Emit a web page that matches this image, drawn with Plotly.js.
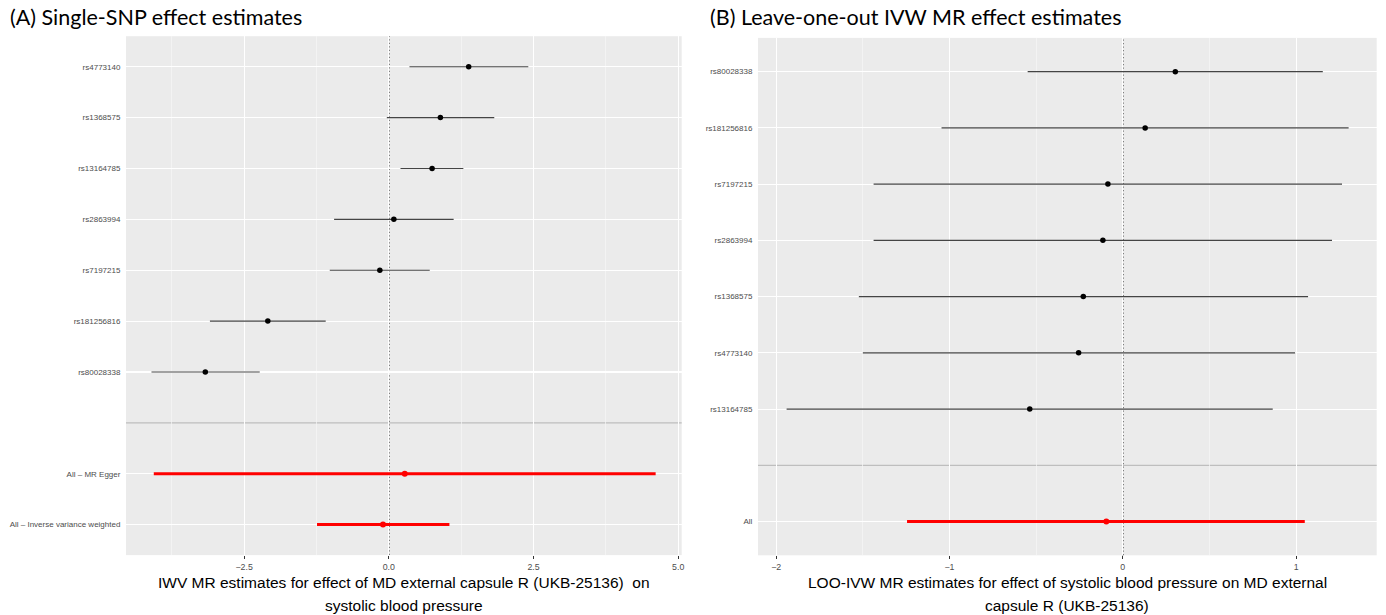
<!DOCTYPE html>
<html>
<head>
<meta charset="utf-8">
<script src="https://cdn.plot.ly/plotly-3.0.1.min.js"></script>
<style>html,body{margin:0;padding:0;background:#fff}#chart{width:1386px;height:615px}</style>
</head>
<body>
<div id="chart"></div>
<script>
// ---- Panel A: single-SNP estimates (top to bottom) ----
const snpA = ['rs4773140','rs1368575','rs13164785','rs2863994','rs7197215','rs181256816','rs80028338'];
const bA   = [1.38, 0.891, 0.748, 0.087, -0.155, -2.09, -3.17];
const loA  = [0.357, -0.034, 0.202, -0.945, -1.02, -3.09, -4.10];
const hiA  = [2.41, 1.822, 1.288, 1.12, 0.707, -1.09, -2.23];
const sumLabA = ['All \u2013 MR Egger','All \u2013 Inverse variance weighted'];
const sumBA   = [0.276, -0.10];
const sumLoA  = [-4.06, -1.24];
const sumHiA  = [4.61, 1.047];
const xTicksA = [-2.5, 0, 2.5, 5];
const xTickTextA = ['\u22122.5','0.0','2.5','5.0'];
const xTitleA = ['IWV MR estimates for effect of MD external capsule R (UKB-25136)  on', 'systolic blood pressure'];

// ---- Panel B: leave-one-out IVW (top to bottom) ----
const snpB = ['rs80028338','rs181256816','rs7197215','rs2863994','rs1368575','rs4773140','rs13164785'];
const bB   = [0.303, 0.129, -0.086, -0.115, -0.228, -0.255, -0.537];
const loB  = [-0.549, -1.046, -1.438, -1.438, -1.523, -1.50, -1.94];
const hiB  = [1.154, 1.303, 1.265, 1.207, 1.069, 0.994, 0.865];
const sumLabB = ['All'];
const sumBB   = [-0.095];
const sumLoB  = [-1.245];
const sumHiB  = [1.05];
const xTicksB = [-2, -1, 0, 1];
const xTickTextB = ['\u22122','\u22121','0','1'];
const xTitleB = ['LOO-IVW MR estimates for effect of systolic blood pressure on MD external', 'capsule R (UKB-25136)'];

// build row positions from order: snps, blank separator, summaries
function rows(snps, sums){
  const labels = snps.concat([''], sums);
  const n = labels.length;
  const pos = labels.map((_, i) => n - i);
  return {labels, pos, snpPos: pos.slice(0, snps.length), sepPos: pos[snps.length], sumPos: pos.slice(snps.length + 1), n};
}
const rA = rows(snpA, sumLabA);
const rB = rows(snpB, sumLabB);

function snpTrace(b, lo, hi, y, xa, ya){
  return {type:'scatter', mode:'markers', x:b, y:y, xaxis:xa, yaxis:ya,
    marker:{color:'#000', size:5.5},
    error_x:{type:'data', symmetric:false, array:hi.map((h,i)=>h-b[i]), arrayminus:lo.map((l,i)=>b[i]-l),
      width:0, thickness:1.1, color:'#444'},
    hoverinfo:'x+y', showlegend:false};
}
function sumTrace(b, lo, hi, y, xa, ya){
  return {type:'scatter', mode:'markers', x:b, y:y, xaxis:xa, yaxis:ya,
    marker:{color:'#ff0000', size:6},
    error_x:{type:'data', symmetric:false, array:hi.map((h,i)=>h-b[i]), arrayminus:lo.map((l,i)=>b[i]-l),
      width:0, thickness:3, color:'#ff0000'},
    hoverinfo:'x+y', showlegend:false};
}

const data = [
  snpTrace(bA, loA, hiA, rA.snpPos, 'x', 'y'),
  sumTrace(sumBA, sumLoA, sumHiA, rA.sumPos, 'x', 'y'),
  snpTrace(bB, loB, hiB, rB.snpPos, 'x2', 'y2'),
  sumTrace(sumBB, sumLoB, sumHiB, rB.sumPos, 'x2', 'y2')
];

const yTickFont = {family:'Liberation Sans, Arial, sans-serif', size:8, color:'#4d4d4d'};
const xTickFont = {family:'Liberation Sans, Arial, sans-serif', size:8.8, color:'#4d4d4d'};
function xAxis(domain, range, tv, tt, minor0, minorD, anchor){
  return {domain, range, anchor, tickmode:'array', tickvals:tv, ticktext:tt,
    ticks:'outside', ticklen:3, tickwidth:1, tickcolor:'#333', tickfont:xTickFont,
    showgrid:true, gridcolor:'#ffffff', gridwidth:1.1, zeroline:false, showline:false,
    minor:{tickmode:'linear', tick0:minor0, dtick:minorD, showgrid:true, gridcolor:'#f6f6f6', gridwidth:0.7, ticks:''},
    fixedrange:true};
}
function yAxis(domain, n, r, anchor){
  return {domain, range:[0.4, n + 0.6], anchor, tickmode:'array', tickvals:r.pos.filter((p,i)=>r.labels[i]!==''),
    ticktext:r.labels.filter(l=>l!==''), ticks:'outside', ticklen:3, tickcolor:'rgba(0,0,0,0)',
    tickfont:yTickFont, showgrid:true, gridcolor:'#ffffff', gridwidth:1.1, zeroline:false, showline:false, fixedrange:true};
}

const titleFont = {family:'Lato, Open Sans, sans-serif', size:21.5, color:'#000'};
const axTitleFont = {family:'Liberation Sans, Arial, sans-serif', size:15.5, color:'#000'};

function ann(x, y, text, font, anchor){
  return {xref:'paper', yref:'paper', x:x/1386, y:1-y/615, xanchor:anchor, yanchor:'middle', showarrow:false, text, font};
}

const layout = {
  width:1386, height:615,
  margin:{l:0, r:0, t:0, b:0},
  paper_bgcolor:'#ffffff', plot_bgcolor:'#ebebeb',
  showlegend:false,
  xaxis: xAxis([126/1386, 681.7/1386], [-4.54, 5.06], xTicksA, xTickTextA, -1.25, 2.5, 'y'),
  yaxis: yAxis([1-555.1/615, 1-36.2/615], rA.n, rA, 'x'),
  xaxis2: xAxis([758/1386, 1376.7/1386], [-2.105, 1.465], xTicksB, xTickTextB, -0.5, 1, 'y2'),
  yaxis2: yAxis([1-555.3/615, 1-37.9/615], rB.n, rB, 'x2'),
  shapes: [
    {type:'line', xref:'x domain', yref:'y', x0:0, x1:1, y0:rA.sepPos, y1:rA.sepPos, line:{color:'#bebebe', width:1.2}, layer:'below'},
    {type:'line', xref:'x2 domain', yref:'y2', x0:0, x1:1, y0:rB.sepPos, y1:rB.sepPos, line:{color:'#bebebe', width:1.2}, layer:'below'},
    {type:'line', xref:'x', yref:'y domain', x0:0, x1:0, y0:0, y1:1, line:{color:'#000', width:1.3, dash:'1.3px,2.2px'}, layer:'below'},
    {type:'line', xref:'x2', yref:'y2 domain', x0:0, x1:0, y0:0, y1:1, line:{color:'#000', width:1.3, dash:'1.3px,2.2px'}, layer:'below'}
  ],
  annotations: [
    ann(8, 17, '(A) Single-SNP effect estimates', titleFont, 'left'),
    ann(708, 17, '(B) Leave-one-out IVW MR effect estimates', titleFont, 'left'),
    ann(403.9, 582, xTitleA[0], axTitleFont, 'center'),
    ann(403.9, 605, xTitleA[1], axTitleFont, 'center'),
    ann(1067.3, 582, xTitleB[0], axTitleFont, 'center'),
    ann(1067.3, 605, xTitleB[1], axTitleFont, 'center')
  ]
};

Plotly.newPlot('chart', data, layout, {displayModeBar:false, staticPlot:true});
</script>
</body>
</html>
